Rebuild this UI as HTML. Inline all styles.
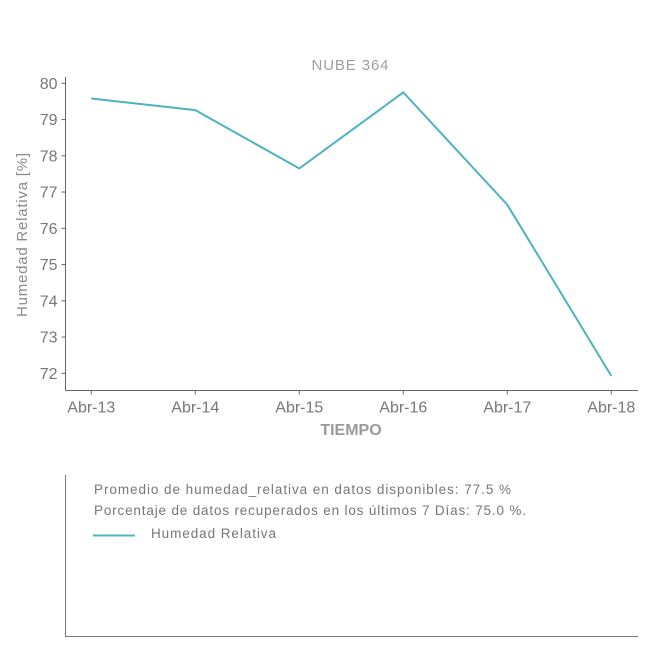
<!DOCTYPE html>
<html><head><meta charset="utf-8"><style>
body{margin:0;background:#fff;font-family:"Liberation Sans",sans-serif}
</style></head><body>
<svg id="c" width="650" height="650" xmlns="http://www.w3.org/2000/svg">
<text x="350" y="70" text-anchor="middle" font-size="15" fill="#a0a0a0" textLength="77">NUBE 364</text>
<g id="axes"></g>
<text transform="translate(27,235) rotate(-90)" text-anchor="middle" font-size="15" fill="#8a8a8a" textLength="164">Humedad Relativa [%]</text>
<text x="351" y="435" text-anchor="middle" font-size="16" font-weight="bold" fill="#9a9a9a">TIEMPO</text>
<g>
<line x1="65.5" y1="475" x2="65.5" y2="637" stroke="#777" stroke-width="1"/>
<line x1="65" y1="636.5" x2="638" y2="636.5" stroke="#777" stroke-width="1"/>
<text x="94" y="494" font-size="13.5" fill="#777" textLength="417">Promedio de humedad_relativa en datos disponibles: 77.5 %</text>
<text x="94" y="515" font-size="13.5" fill="#777" textLength="432">Porcentaje de datos recuperados en los últimos 7 Días: 75.0 %.</text>
<line x1="93" y1="535.5" x2="135" y2="535.5" stroke="#4db3c0" stroke-width="2"/>
<text x="151" y="538" font-size="13.5" fill="#777" textLength="125">Humedad Relativa</text>
</g>
</svg>
<script>
const categories=["Abr-13","Abr-14","Abr-15","Abr-16","Abr-17","Abr-18"];
const values=[79.58,79.26,77.65,79.75,76.65,71.93];
const yTicks=[72,73,74,75,76,77,78,79,80];
const NS="http://www.w3.org/2000/svg";
const g=document.getElementById("axes");
const x0=91.3,dx=104,ax=65.5,ab=390.5;
const xs=i=>x0+i*dx;
const ys=v=>373.3-(v-72)*36.25;
function mk(t,a,p){const e=document.createElementNS(NS,t);for(const k in a)e.setAttribute(k,a[k]);(p||g).appendChild(e);return e;}
const yl=mk("line",{x1:ax,y1:77,x2:ax,y2:ab,stroke:"#666"});


const xl=mk("line",{x1:ax,y1:ab,x2:638,y2:ab,stroke:"#666"});


yTicks.forEach(v=>{
 mk("line",{x1:ax-4,y1:ys(v),x2:ax,y2:ys(v),stroke:"#666"});
 const t=mk("text",{x:ax-8,y:ys(v)+5.5,"text-anchor":"end","font-size":"16",fill:"#777"});
 t.textContent=v;
 
 
});
categories.forEach((c,i)=>{
 mk("line",{x1:xs(i),y1:ab,x2:xs(i),y2:ab+4,stroke:"#666"});
 const t=mk("text",{x:xs(i),y:ab+22,"text-anchor":"middle","font-size":"16",fill:"#777"});
 t.textContent=c;
 
 
});
const p=mk("polyline",{points:values.map((v,i)=>xs(i)+","+ys(v)).join(" "),fill:"none",stroke:"#4db3c0","stroke-width":"2"});


</script>
</body></html>
